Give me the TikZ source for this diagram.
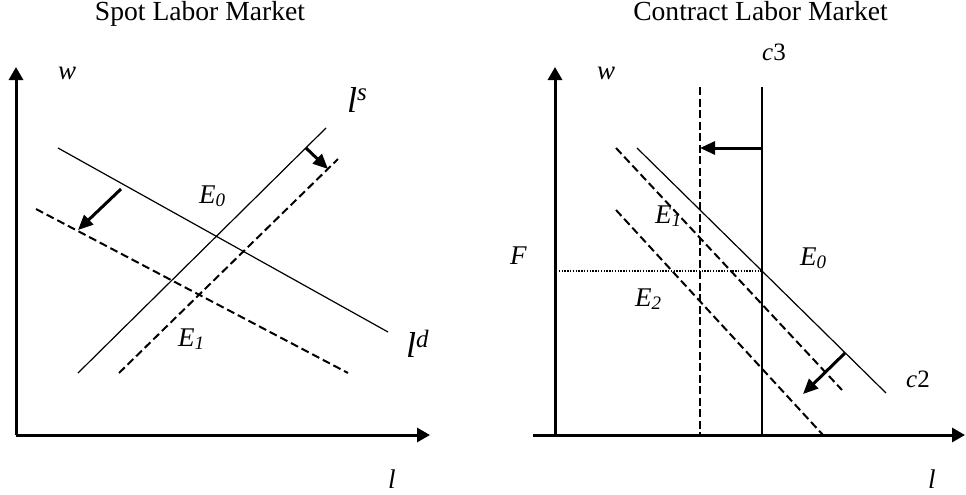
\documentclass[tikz,border=0pt]{standalone}
\usepackage{fontspec}
\setmainfont{Liberation Serif}
\usetikzlibrary{arrows.meta}
\newcommand\subidx[1]{{\fontsize{19}{19}\selectfont\raisebox{-3pt}{#1}}}
\tikzset{
  axisline/.style={line width=3pt,-{Triangle[length=13pt,width=14pt]}},
  thinline/.style={line width=1.2pt},
  dashdiag/.style={line width=2pt,dash pattern=on 8pt off 4pt},
  dashvert/.style={line width=1.6pt,dash pattern=on 8pt off 3.5pt},
  dotline/.style={line width=1.6pt,dash pattern=on 1.4pt off 1.4pt},
  shiftarrow/.style={line width=3pt,-{Triangle[length=15pt,width=13pt]}},
  titletext/.style={inner sep=0pt,anchor=base,font=\fontsize{27.6}{30}\selectfont},
  lab/.style={inner sep=0pt,anchor=base west,font=\fontsize{27}{30}\selectfont\itshape},
  biglab/.style={inner sep=0pt,anchor=base west,font=\fontsize{36}{38}\selectfont\itshape},
  clab/.style={inner sep=0pt,anchor=base west,font=\fontsize{25}{28}\selectfont},
}
\begin{document}
\begin{tikzpicture}[x=1pt,y=-1pt]
\useasboundingbox (0,0) rectangle (966,495);
% ---------- titles ----------
\node[titletext] (t1) at (200,20.5) {Spot Labor Market};
\node[titletext] (t2) at (760.5,20.5) {Contract Labor Market};
% ---------- left panel ----------
\coordinate (lo) at (16,435);
\coordinate (ly) at (16,67);
\coordinate (lx) at (430,435);
\draw[axisline] (lo) -- (ly);
\draw[axisline] (lo) -- (lx);
\coordinate (ld1) at (58,148);   \coordinate (ld2) at (388,332);
\coordinate (ldd1) at (36,209);  \coordinate (ldd2) at (348,373);
\coordinate (ls1) at (78,373);   \coordinate (ls2) at (326,128);
\coordinate (lsd1) at (119,373); \coordinate (lsd2) at (338,159);
\draw[thinline] (ld1) -- (ld2);
\draw[thinline] (ls1) -- (ls2);
\draw[dashdiag] (ldd1) -- (ldd2);
\draw[dashdiag] (lsd1) -- (lsd2);
\coordinate (a1s) at (121,189); \coordinate (a1e) at (78,230);
\coordinate (a2s) at (306,148); \coordinate (a2e) at (328,169);
\draw[shiftarrow] (a1s) -- (a1e);
\draw[shiftarrow] (a2s) -- (a2e);
\node[lab] (wl) at (58,80) {w};
\node[lab] (ll) at (388,488) {l};
\node[biglab] (lsl) at (347,112) {l{\fontsize{25}{25}\selectfont\raisebox{12pt}{s}}};
\node[biglab] (ldl) at (406,357) {l{\fontsize{25}{25}\selectfont\raisebox{10pt}{d}}};
\node[lab] (e0l) at (199,203) {E\subidx{0}};
\node[lab] (e1l) at (178,346) {E\subidx{1}};
% ---------- right panel ----------
\coordinate (ro) at (555,435);
\coordinate (ry) at (555,67);
\coordinate (rx0) at (533,435);
\coordinate (rx) at (965,435);
\draw[axisline] (ro) -- (ry);
\draw[axisline] (rx0) -- (rx);
\coordinate (v1t) at (762,87);  \coordinate (v1b) at (762,435);
\coordinate (v2t) at (700,87);  \coordinate (v2b) at (700,435);
\draw[thinline] (v1t) -- (v1b);
\draw[dashvert] (v2t) -- (v2b);
\coordinate (c2a) at (637,148); \coordinate (c2b) at (886,393);
\coordinate (d1a) at (616,148); \coordinate (d1b) at (842,390);
\coordinate (d2a) at (616,210); \coordinate (d2b) at (823,435);
\draw[thinline] (c2a) -- (c2b);
\draw[dashdiag] (d1a) -- (d1b);
\draw[dashdiag] (d2a) -- (d2b);
\coordinate (fl) at (556,271); \coordinate (fr) at (762,271);
\draw[dotline] (fl) -- (fr);
\coordinate (a3s) at (762,148); \coordinate (a3e) at (700,148);
\coordinate (a4s) at (845,353); \coordinate (a4e) at (803,394);
\draw[shiftarrow] (a3s) -- (a3e);
\draw[shiftarrow] (a4s) -- (a4e);
\node[lab] (wr) at (597,80) {w};
\node[lab] (lr) at (928,488) {l};
\node[lab] (fr2) at (510,264) {F};
\node[lab] (e0r) at (800,265) {E\subidx{0}};
\node[lab] (e1r) at (655,223) {E\subidx{1}};
\node[lab] (e2r) at (635,306) {E\subidx{2}};
\node[clab] (c3l) at (762,60) {\textit{c}3};
\node[clab] (c2l) at (906,387) {\textit{c}2};
\end{tikzpicture}
\end{document}
